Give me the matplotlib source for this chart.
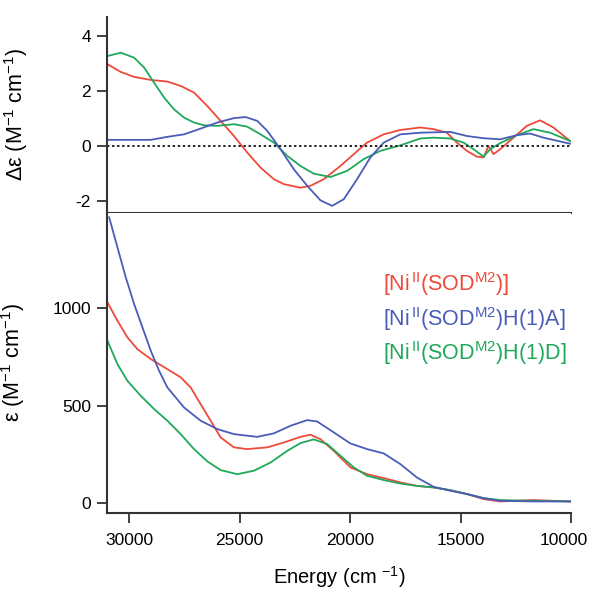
import matplotlib
matplotlib.use("Agg")
import matplotlib.pyplot as plt
import matplotlib.transforms as mtransforms

plt.rcParams['font.family'] = ['Liberation Sans', 'DejaVu Sans']
plt.rcParams['mathtext.fontset'] = 'custom'
plt.rcParams['mathtext.rm'] = 'Liberation Sans'
plt.rcParams['mathtext.it'] = 'Liberation Sans'
plt.rcParams['mathtext.default'] = 'regular'
plt.rcParams['axes.unicode_minus'] = False

# ---------------- data: CD (top panel) ----------------
cd_red_E = [30977, 30374, 29772, 29019, 28266, 27664, 27061, 26459, 25856, 25254,
            24652, 24049, 23447, 22995, 22242, 21790, 21188, 20435, 19832, 19230,
            18477, 17724, 16820, 16218, 15616, 15164, 14712, 14260, 13959, 13733,
            13507, 13206, 12604, 12001, 11399, 10796, 10043]
cd_red = [2.97, 2.69, 2.51, 2.40, 2.34, 2.18, 1.94, 1.45, 0.91, 0.36,
          -0.24, -0.79, -1.21, -1.39, -1.52, -1.45, -1.21, -0.73, -0.30, 0.12,
          0.42, 0.58, 0.67, 0.61, 0.48, 0.12, -0.18, -0.39, -0.42, 0.00,
          -0.30, -0.12, 0.30, 0.73, 0.93, 0.67, 0.18]

cd_blue_E = [30977, 29019, 28266, 27513, 26760, 26007, 25254, 24727, 24200, 23748,
             23146, 22543, 21941, 21338, 20811, 20284, 19682, 19079, 18477, 17724,
             16820, 15465, 14712, 13959, 13206, 12453, 11851, 11248, 10043]
cd_blue = [0.22, 0.22, 0.33, 0.42, 0.63, 0.85, 1.01, 1.05, 0.91, 0.55,
           -0.12, -0.85, -1.45, -1.98, -2.18, -1.94, -1.21, -0.42, 0.12, 0.42,
           0.48, 0.51, 0.36, 0.28, 0.24, 0.39, 0.45, 0.30, 0.08]

cd_green_E = [30977, 30374, 29772, 29320, 28868, 28417, 27965, 27513, 27061, 26609,
              26007, 25254, 24652, 24049, 23447, 22844, 22242, 21640, 20887, 20134,
              19381, 18628, 17724, 16820, 16218, 15465, 14863, 14411, 13959, 13658,
              13206, 12453, 11700, 10947, 10043]
cd_green = [3.27, 3.39, 3.21, 2.85, 2.30, 1.76, 1.33, 1.03, 0.85, 0.75,
            0.73, 0.79, 0.70, 0.42, 0.12, -0.36, -0.73, -1.01, -1.13, -0.91,
            -0.48, -0.18, 0.02, 0.27, 0.30, 0.27, 0.12, -0.12, -0.39, -0.12,
            0.10, 0.39, 0.61, 0.48, 0.18]

# ---------------- data: absorption (bottom panel) ----------------
ab_red_E = [30977, 30525, 30073, 29621, 29019, 28266, 27664, 27212, 26760, 26308,
            25856, 25254, 24652, 23748, 22995, 22242, 21790, 21338, 20736, 19983,
            19230, 18477, 17724, 16971, 16218, 15465, 14712, 13959, 13206, 11700,
            10043]
ab_red = [1030, 936, 850, 790, 739, 687, 645, 593, 507, 422,
          336, 285, 276, 285, 310, 339, 350, 327, 267, 182,
          147, 127, 105, 87, 79, 65, 45, 19, 7, 14,
          7]

ab_blue_E = [30902, 30525, 30149, 29772, 29396, 29019, 28643, 28266, 27513, 26760,
             26007, 25254, 24200, 23447, 22694, 21941, 21489, 20736, 19983, 19230,
             18477, 17724, 16971, 16218, 15465, 14712, 13959, 13206, 11700, 10043]
ab_blue = [1468, 1313, 1159, 1022, 902, 782, 679, 593, 490, 422,
           379, 353, 339, 357, 396, 425, 418, 362, 305, 276,
           254, 199, 130, 82, 62, 45, 24, 10, 7, 7]

ab_green_E = [30977, 30525, 30073, 29471, 28868, 28266, 27664, 27061, 26459, 25856,
              25103, 24350, 23597, 22844, 22242, 21640, 21037, 20435, 19832, 19230,
              18477, 17724, 16971, 16218, 15465, 14712, 13959, 13206, 11700, 10043]
ab_green = [833, 713, 627, 550, 482, 422, 353, 276, 213, 168,
            147, 165, 207, 267, 307, 326, 302, 242, 182, 139,
            117, 99, 87, 79, 65, 45, 24, 14, 10, 7]

labels = [r"[Ni$^{\,II}$(SOD$^{M2}$)]",
          r"[Ni$^{\,II}$(SOD$^{M2}$)H(1)A]",
          r"[Ni$^{\,II}$(SOD$^{M2}$)H(1)D]"]
cd_ticks = [-2, 0, 2, 4]
ab_ticks = [0, 500, 1000]
x_ticks = [30000, 25000, 20000, 15000, 10000]

RED = '#ee4a3a'
BLUE = '#4a5cb8'
GREEN = '#20a85a'
SPINE = '#333333'

fig = plt.figure(figsize=(5.93, 5.90), dpi=100)
ax1 = fig.add_axes([0.1804, 0.639, 0.7825, 0.3327])
ax2 = fig.add_axes([0.1804, 0.131, 0.7825, 0.508])

lw = 1.3
ax1.plot(cd_red_E, cd_red, color=RED, lw=lw)
ax1.plot(cd_green_E, cd_green, color=GREEN, lw=lw)
ax1.plot(cd_blue_E, cd_blue, color=BLUE, lw=lw)
ax1.axhline(0, color='#222222', lw=1.4, ls=(0, (1.2, 1.4)))

ax2.plot(ab_red_E, ab_red, color=RED, lw=lw)
ax2.plot(ab_green_E, ab_green, color=GREEN, lw=lw)
ax2.plot(ab_blue_E, ab_blue, color=BLUE, lw=lw)

for ax in (ax1, ax2):
    ax.set_xlim(31000, 10000)
    ax.spines['right'].set_visible(False)
    ax.spines['top'].set_visible(False)
    for s in ('left', 'bottom'):
        ax.spines[s].set_linewidth(1.5)
        ax.spines[s].set_color(SPINE)
    ax.tick_params(direction='out', length=7.5, width=1.3, color=SPINE,
                   labelsize=12.5, pad=4)

ax1.set_ylim(-2.44, 4.7)
ax1.set_yticks(cd_ticks)
ax1.set_xticks([])
ax1.set_ylabel(r"Δε (M$^{-1}$ cm$^{-1}$)", fontsize=15.5)
ax1.yaxis.set_label_coords(-0.166, 0.5)

ax2.set_ylim(-51, 1490)
ax2.set_yticks(ab_ticks)
ax2.set_xticks(x_ticks)
ax2.tick_params(axis='x', pad=7)
ax2.set_ylabel(r"ε (M$^{-1}$ cm$^{-1}$)", fontsize=15.5)
ax2.yaxis.set_label_coords(-0.172, 0.5)
ax2.set_xlabel(r"Energy (cm $^{-1}$)", fontsize=14.5, labelpad=12)

# nudge the last x tick label so it stays inside the figure (as in the reference)
last = ax2.get_xticklabels()[-1]
last.set_transform(last.get_transform() +
                   mtransforms.ScaledTranslation(-5 / 72, 0, fig.dpi_scale_trans))

for lab, col, yy in zip(labels, [RED, BLUE, GREEN], [0.740, 0.624, 0.5095]):
    ax2.text(0.595, yy, lab, color=col, fontsize=15.5, transform=ax2.transAxes,
             ha='left', va='baseline')

fig.savefig('out.png', dpi=100)
